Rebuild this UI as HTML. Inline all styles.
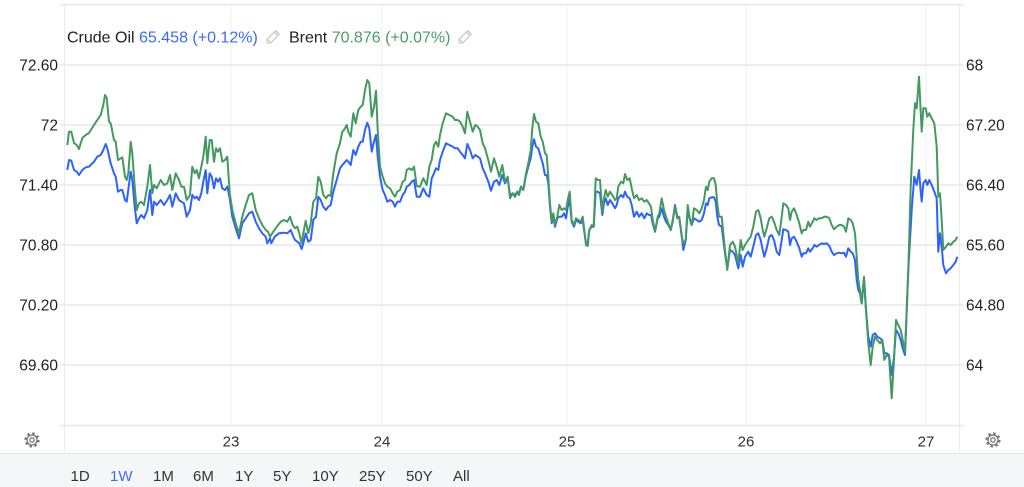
<!DOCTYPE html>
<html><head><meta charset="utf-8"><style>
html,body{margin:0;padding:0;background:#fff;}
body{width:1024px;height:487px;overflow:hidden;position:relative;font-family:"Liberation Sans",Arial,sans-serif;}
svg{position:absolute;left:0;top:0;}
</style></head><body>
<svg width="1024" height="487" viewBox="0 0 1024 487" xmlns="http://www.w3.org/2000/svg" font-family="Liberation Sans, Arial, sans-serif">
<rect x="0" y="454" width="1024" height="33" fill="#f5f6f8"/>
<line x1="0" y1="453.5" x2="1024" y2="453.5" stroke="#e3e5e8" stroke-width="1"/>
<!-- vertical grid -->
<g stroke="#eef3f3" stroke-width="1.2">
<line x1="231" y1="4" x2="231" y2="425"/>
<line x1="382" y1="4" x2="382" y2="425"/>
<line x1="567" y1="4" x2="567" y2="425"/>
<line x1="746" y1="4" x2="746" y2="425"/>
<line x1="926" y1="4" x2="926" y2="425"/>
</g>
<!-- horizontal grid -->
<g stroke="#e8e8e8" stroke-width="1.5">
<line x1="60" y1="4.5" x2="964" y2="4.5"/>
<line x1="60" y1="65" x2="964" y2="65"/>
<line x1="60" y1="125" x2="964" y2="125"/>
<line x1="60" y1="185" x2="964" y2="185"/>
<line x1="60" y1="245" x2="964" y2="245"/>
<line x1="60" y1="305" x2="964" y2="305"/>
<line x1="60" y1="365" x2="964" y2="365"/>
<line x1="60" y1="425.5" x2="964" y2="425.5"/>
</g>
<g stroke="#ececec" stroke-width="1">
<line x1="64.5" y1="4" x2="64.5" y2="453"/>
<line x1="959.5" y1="4" x2="959.5" y2="453"/>
</g>
<!-- left axis labels -->
<g font-size="15.5" fill="#222" text-anchor="end">
<text x="58" y="70.5">72.60</text>
<text x="58" y="130.5">72</text>
<text x="58" y="190.5">71.40</text>
<text x="58" y="250.5">70.80</text>
<text x="58" y="310.5">70.20</text>
<text x="58" y="370.5">69.60</text>
</g>
<g font-size="15.5" fill="#222" text-anchor="start">
<text x="966" y="70.5">68</text>
<text x="966" y="130.5">67.20</text>
<text x="966" y="190.5">66.40</text>
<text x="966" y="250.5">65.60</text>
<text x="966" y="310.5">64.80</text>
<text x="966" y="370.5">64</text>
</g>
<g font-size="15" fill="#333" text-anchor="middle">
<text x="231" y="446.5">23</text>
<text x="382" y="446.5">24</text>
<text x="567" y="446.5">25</text>
<text x="746" y="446.5">26</text>
<text x="926" y="446.5">27</text>
</g>
<!-- series -->
<polyline fill="none" stroke="#2d62ff" stroke-width="2" stroke-linejoin="round" points="67.3,170 69,160 71.3,160.7 74,170 76.7,171.7 79,175 82.3,170 85.7,167.3 89,166.7 94,161.7 97.3,156.7 100.7,155 103.3,150 105.7,144 107.3,148.3 110.7,163.3 114,173.3 115.7,176.7 118,191.7 120.7,190 122.3,190 125,200 126.7,201.7 130.7,171.7 132.3,180 134.7,206.7 136.7,223.3 139,218.3 141.3,215 144,218.3 147.3,210 150,190 152.3,215 154,201.7 156.7,205 160.7,200 164,205 167.3,200 170,195 172.3,206.7 175.7,193.3 179,200 181.3,201.7 184,203.3 186.7,216.7 190,210 192.3,195 194.7,198.3 196.7,196.7 199,200 201.3,193.3 203.3,181.7 205.7,170 207.3,193.3 209.7,173.3 211.7,176.7 214,188.3 216,178.3 218,181.7 220,178.3 222.3,188.3 225,190 227.3,186.7 229.7,198.3 232.3,216.7 235.7,228.3 239,238.3 242.3,223.3 245.7,218.3 249,213.3 252.3,211.7 255.7,221.7 259,228.3 262.3,233.3 265.7,236.7 267.3,243.3 270,238.3 271.3,243.3 274.7,236.7 279,233.3 284,232.7 287.3,233.3 290.7,230 293.3,236.7 295,240 297.3,241.7 299.3,243.3 301.7,249 303.3,243.3 305.7,233.3 308.3,241.7 310.7,240 313.3,220 316,216.7 318.3,196.7 320.7,200 323.3,206.7 326,210 328.3,206.7 330.7,205 333.3,191.7 336.7,180 340,168.3 342.3,165 344,163.3 346.7,160 348.3,161.7 350.7,165 353.3,150 355.7,155 358.3,146.7 360.7,141.7 362.7,141.7 365,130 367.3,122.7 369.3,128.3 371.7,151.7 374,141.7 376,135 377.7,156.7 380,176.7 382.7,190 385,195 387.3,201.7 390,200 392.7,201.7 395,206.7 397.3,201.7 400,201.7 402.7,195 405,191.7 406.7,186.7 409.3,185 411.7,181.7 414,180 416.7,196.7 420,196.7 423.3,188.3 426.7,195 429.3,196.7 431.7,178.3 434,173.3 436,168.3 438.3,170 440,160 442.7,151.7 446,143.3 449.3,145 452.7,146.7 455,148.3 457.7,148.3 460,151.7 462.7,155 465,158.3 467.3,144 470,150 472.7,158.3 475.3,155 477.7,156.7 480,158.3 482.7,168.3 485,173.3 488.3,181.7 491,190.7 494,181.7 496.7,180 499.3,185 502.3,175 505,183.3 507.7,178.3 510,195 512.7,193.3 515,196.7 517.3,191.7 519,193.3 521,186.7 523.3,190 525.7,176.7 528.3,166.7 530.7,158.3 532.3,146.7 534,139.3 536,146.7 538.3,148.3 540.7,156.7 542.7,163.3 545,175 546.7,175 548.3,183.3 550,206.7 551.7,223.3 553.3,216.7 555,226.7 557.3,218.3 559.3,216.7 561.7,216.7 564,213.3 566,218.3 567.7,206.7 569.7,200 571.7,221.7 574,226.7 576,220 578.3,221.7 580.7,223.3 582.7,220 584.3,231.7 586,243.3 587.7,243.3 589.3,230 591.7,226.7 593.7,226.7 595.7,191.7 597.7,191.7 600,193.3 602.3,215 604,203.3 605.7,198.3 607.7,205 610,200 612.3,203.3 615,208.3 616.7,205 618.3,198.3 621,195 623.3,197.3 625,191.7 627.3,196.7 629.7,198.3 631.7,205 634,216.7 636.7,211.7 639,216.7 641.7,213.3 644.3,218.3 646.7,213.3 649,215 651,215 652.7,223.3 655,231.7 657.7,218.3 659.3,216.7 661.7,208.3 664,216.7 666,221.7 668.3,225 670.7,230 672.7,221.7 675,205 677.3,216.7 679.3,218.3 681.7,235 683.3,250 685.7,240 687.7,210 690,220 691.7,225 694,218.3 696.7,220 699.3,221.7 701.7,220 704,213.3 706,203.3 707.7,205 709.3,198.3 711.7,197.3 714,197.3 715.7,201.7 717.3,216.7 719,225 721.7,226.7 725,253.3 727.3,268.3 730,250 732.7,251.7 735,255 738.3,268.3 740.7,255 742.7,266.7 745,256.7 748.3,251.7 750.7,256.7 753.3,246.7 756,235 758.3,233.3 760.7,240 762.7,250 764.3,256.7 766.7,248.3 769.3,236.7 771.7,235 774,240 776.7,251.7 779.3,255 781.7,240 783.3,229.3 786,230 788.3,231.7 790,245 791.7,238.3 794,236.7 796.7,241.7 799.3,248.3 801.7,256.7 803.3,253.3 806,253.3 808.3,248.3 810,251.7 812.7,248.3 814.3,245 816.7,246.7 819,245 821.7,243.3 824,244 826.7,243.3 829.3,246 831.7,251.7 834,255 836.7,253.3 839.3,252.7 841.7,253.3 844,252.7 846,256.7 848.3,248.3 850.7,251.7 852.7,253.3 855,260 856.7,280 858.3,290 860,293.3 861.7,303.3 864,278.3 866,310 868.3,336.7 870.7,346.7 872.7,335 875,333.3 877.3,336.7 880,338.3 882.3,340 884.3,353.3 886.7,353.3 889,355 891.7,375 894,356.7 896,330 898.3,333.3 900.7,340 902.7,348.3 905,355 908.3,270 911.7,210 914.3,176.7 916.7,185 919,170 920.7,191.7 921.7,201.7 923.3,183.3 925.7,180 927.3,185 929.3,180 931.7,185 934.3,191.7 936.7,198.3 938.3,251.7 940,233.3 941.7,246.7 943.3,265 946,273.3 948.3,270 950.7,268.3 953.3,265 955.7,261.7 957.3,256.7"/>
<polyline fill="none" stroke="#439a60" stroke-width="2" stroke-linejoin="round" points="67.3,145 69,131.7 71.3,131.7 74,143 76.7,145 79,149 82.3,138 85.7,135 89,133 94,125 97.3,120 100.7,115 103.3,105 105,95 106.7,98 109,121.7 110.7,123.3 114,140 115.7,141.7 118,160 120.7,158.3 122.3,157.3 125,176.7 126.7,180 128.3,173.3 130.7,141.7 132.3,153.3 134.7,186.7 136.7,210 139,203.3 141.3,201.7 144,205 147.3,186.7 150,165 152.3,193.3 154,185 156.7,188.3 160.7,180 164,185 167.3,183.3 170,175 172.3,190 175.7,173.3 179,180 181.3,186.7 184,186.7 186.7,200 190,195 192.3,166.7 194.7,173.3 196.7,170 199,178.3 201.3,166.7 203.3,156.7 205.7,136.7 207.3,163.3 209.7,140 211.7,140 214,161.7 216,148.3 218,151.7 220,148.3 222.3,161.7 225,160 227.3,156.7 229.7,193.3 232.3,210 235.7,223.3 239,233.3 242.3,216.7 245.7,205 249,195 252.3,193.3 255.7,210 259,218.3 262.3,225 265.7,230 268,231.7 270,236.7 273.3,231.7 277.3,226 280.7,221.7 284,220 287.3,221.7 290,216.7 292.7,225 295,228.3 297.3,226.7 299.3,233.3 301.7,243.3 303.3,233.3 305.7,220.7 308.3,233.3 310.7,223.3 313.3,201.7 316,198.3 318.3,176.7 320.7,181.7 323.3,195 326,198.3 328.3,195 330.7,196 333.3,173.3 336.7,153.3 340,143.3 342.3,131.7 344,130 346.7,125 348.3,131.7 350.7,136.7 353.3,113.3 355.7,123.3 358.3,110 360.7,106.7 362.7,105 365,90 367.3,80 369.3,83.3 371.7,116.7 374,106.7 376,90.7 377.7,130 380,166.7 382.7,176.7 385,183.3 387.3,186.7 390,188.3 392.7,193.3 395,196.7 397.3,191.7 400,190 402.7,181.7 405,180 406.7,170 409.3,168.3 411.7,170 414,166.7 416.7,186 420,186.7 423.3,178.3 426.7,185 429.3,166.7 431.7,160 434,145 436,141.7 438.3,146.7 440,135 442.7,123.3 446,113.3 449.3,115 452.7,116.7 455,120 457.7,120 460,121.7 462.7,126.7 465,133.3 467.3,111.7 470,121.7 472.7,131.7 475.3,125 477.7,126.7 480,130 482.7,143.3 485,148.3 488.3,160 491,171.7 494,158.3 496.7,166.7 499.3,176.7 502.3,165 505,181.7 507.7,176.7 510,198.3 512.7,193.3 515,195 517.3,191.7 519,195 521,186.7 523.3,190 525.7,175 528.3,163.3 530.7,150 532.3,128.3 534,114 536,121.7 538.3,123.3 540.7,136.7 542.7,141.7 545,153.3 546.7,155 548.3,176.7 550,203.3 551.7,221.7 553.3,213.3 555,225 557.3,216.7 559.3,205 561.7,210 564,208.3 566,210 567.7,200 569.7,191.7 571.7,220 574,225 576,218.3 578.3,220 580.7,221.7 582.7,216.7 584.3,230 586,245 587.7,246 589.3,230 591.7,225 593.7,226.7 595.7,178.3 597.7,180 600,180 602.3,211.7 604,198.3 605.7,190 607.7,196.7 610,191.7 612.3,195 615,200 616.7,198.3 618.3,186.7 621,181.7 623.3,183.3 625,174 627.3,180 629.7,178.3 631.7,188.3 634,198.3 636.7,195 639,200 641.7,198.3 644.3,201.7 646.7,200 649,203.3 651,206.7 652.7,220 655,231.7 657.7,216.7 659.3,213.3 661.7,198.3 664,210 666,216.7 668.3,223.3 670.7,230 672.7,220 675,206.7 677.3,218.3 679.3,216.7 681.7,236.7 683.3,243.3 685.7,240 687.7,205 690,220 691.7,225 694,208.3 696.7,210 699.3,213.3 701.7,208.3 704,200 706,186.7 707.7,190 709.3,181.7 711.7,178.3 714,178.3 715.7,185 717.3,203.3 719,216.7 721.7,216.7 725,250 727.3,270 730,245 732.7,241.7 735,246.7 738.3,263.3 740.7,240 742.7,250 745,245 748.3,240 750.7,236.7 753.3,226.7 756,211.7 758.3,210 760.7,218.3 762.7,230 764.3,236.7 766.7,228.3 769.3,218.3 771.7,216.7 774,221.7 776.7,230 779.3,235 781.7,216.7 783.3,203.3 786,205 788.3,208.3 790,220 791.7,211.7 794,208.3 796.7,215 799.3,223.3 801.7,233.3 803.3,230 806,230 808.3,221.7 810,226.7 812.7,221.7 814.3,218.3 816.7,220 819,218.3 821.7,218.3 824,216.7 826.7,216.7 829.3,218.3 831.7,225 834,229.3 836.7,226.7 839.3,225 841.7,225 844,226.7 846,231.7 848.3,218.3 850.7,220 852.7,223.3 855,233.3 856.7,256.7 858.3,280 860,290 861.7,303.3 864,276.7 866,310 868.3,343.3 870.7,365 872.7,346.7 875,336.7 877.3,340 880,343.3 882.3,340 884.3,360 886.7,355 889,356.7 891.7,398.3 894,360 896,320 898.3,325 900.7,330 902.7,340 905,351.7 908.3,270 910.7,186.7 913.3,130 915,103.3 916.7,108.3 919,76.7 920.7,111.7 921.7,131.7 923.3,108.3 925.7,108.3 927.3,116.7 929.3,113.3 931.7,118.3 934.3,123.3 936.7,146.7 938.3,196.7 940,193.3 941.7,220 943.3,250 946,246.7 948.3,243.3 950.7,245 953.3,241.7 955.7,240 957.3,236.7"/>
<!-- legend -->
<text x="67" y="42.5" font-size="16" fill="#222">Crude Oil <tspan fill="#3a6cf6">65.458 (+0.12%)</tspan></text>
<g transform="translate(274,36) rotate(-45)" fill="none" stroke="#c4c4c4" stroke-width="1.1">
<rect x="-7" y="-2.5" width="12" height="5"/>
<path d="M-7,-2.5 L-10,0 L-7,2.5"/>
<line x1="3" y1="-2.5" x2="3" y2="2.5"/>
</g>
<text x="289" y="42.5" font-size="16" fill="#222">Brent <tspan fill="#4a9e68">70.876 (+0.07%)</tspan></text>
<g transform="translate(466,36) rotate(-45)" fill="none" stroke="#c4c4c4" stroke-width="1.1">
<rect x="-7" y="-2.5" width="12" height="5"/>
<path d="M-7,-2.5 L-10,0 L-7,2.5"/>
<line x1="3" y1="-2.5" x2="3" y2="2.5"/>
</g>
<!-- gears -->
<g transform="translate(32,440)" fill="none" stroke="#777">
<circle r="6.3" stroke-width="2.6" stroke-dasharray="2.4 2.55"/>
<circle r="5" stroke-width="1.3"/>
<circle r="2.2" stroke-width="1.3"/>
</g>
<g transform="translate(993,440)" fill="none" stroke="#777">
<circle r="6.3" stroke-width="2.6" stroke-dasharray="2.4 2.55"/>
<circle r="5" stroke-width="1.3"/>
<circle r="2.2" stroke-width="1.3"/>
</g>
<!-- range buttons -->
<g font-size="15" fill="#333">
<text x="70.5" y="481">1D</text>
<text x="110" y="481" fill="#3a6cf6">1W</text>
<text x="153" y="481">1M</text>
<text x="193" y="481">6M</text>
<text x="235" y="481">1Y</text>
<text x="273" y="481">5Y</text>
<text x="312" y="481">10Y</text>
<text x="359" y="481">25Y</text>
<text x="406" y="481">50Y</text>
<text x="453" y="481">All</text>
</g>
</svg>
</body></html>
